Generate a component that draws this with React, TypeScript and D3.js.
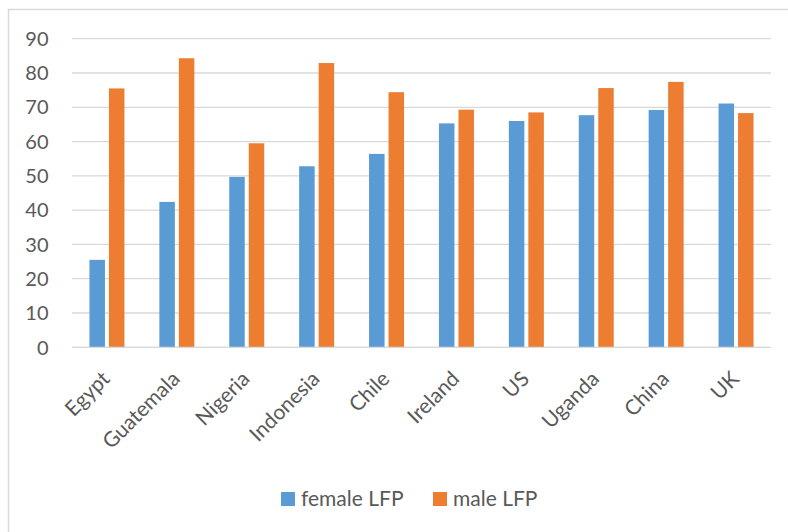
import React from "react";
import * as d3 from "d3";

const categories = ["Egypt", "Guatemala", "Nigeria", "Indonesia", "Chile", "Ireland", "US", "Uganda", "China", "UK"];
const femaleLFP = [25.5, 42.4, 49.7, 52.8, 56.4, 65.3, 66.0, 67.7, 69.2, 71.1];
const maleLFP = [75.5, 84.3, 59.5, 82.9, 74.4, 69.3, 68.5, 75.6, 77.4, 68.3];
const seriesNames = ["female LFP", "male LFP"];
const yTicks = [0, 10, 20, 30, 40, 50, 60, 70, 80, 90];

const colors = ["#5b9bd5", "#ed7d31"];
const FONT = "Lato, 'Open Sans', sans-serif";

export default function App() {
  const W = 788, H = 532;
  const left = 72, right = 771, top = 38.7, bottom = 347.3;
  const x = d3.scaleBand<string>().domain(categories).range([left, right]).paddingInner(0).paddingOuter(0);
  const y = d3.scaleLinear().domain([0, 90]).range([bottom, top]);
  const barW = 15.5, gap = 4;
  const series = [femaleLFP, maleLFP];
  const legendX = [281, 433];

  return (
    <svg width={W} height={H} style={{ position: "absolute", left: 0, top: 0, fontFamily: FONT }}>
      <rect x={0} y={0} width={W} height={H} fill="#fff" />
      <line x1={8.5} y1={9} x2={8.5} y2={H} stroke="#d9d9d9" strokeWidth={1.5} />
      <line x1={8} y1={9.5} x2={W} y2={9.5} stroke="#d9d9d9" strokeWidth={1.5} />
      {yTicks.map((t) => (
        <g key={t}>
          <line x1={left} x2={right} y1={y(t)} y2={y(t)} stroke="#d9d9d9" strokeWidth={1.3} />
          <text x={48.5} y={y(t)} dy="0.36em" textAnchor="end" fontSize={20} fill="#595959">{t}</text>
        </g>
      ))}
      {categories.map((c, i) => {
        const cx = (x(c) as number) + x.bandwidth() / 2;
        return (
          <g key={c}>
            {series.map((s, k) => {
              const bx = k === 0 ? cx - gap / 2 - barW : cx + gap / 2;
              return (
                <rect key={k} x={bx} y={y(s[i])} width={barW} height={y(0) - y(s[i])} fill={colors[k]} />
              );
            })}
            <text transform={`translate(${cx - 1},${375}) rotate(-45)`} textAnchor="end" fontSize={21} fill="#595959" dy="0.35em">{c}</text>
          </g>
        );
      })}
      <line x1={left} x2={right} y1={y(0)} y2={y(0)} stroke="#d9d9d9" strokeWidth={1.3} />
      <g>
        {seriesNames.map((n, k) => (
          <g key={n}>
            <rect x={legendX[k]} y={492} width={14} height={14} fill={colors[k]} />
            <text x={legendX[k] + 20} y={506} fontSize={21} fill="#595959">{n}</text>
          </g>
        ))}
      </g>
    </svg>
  );
}
